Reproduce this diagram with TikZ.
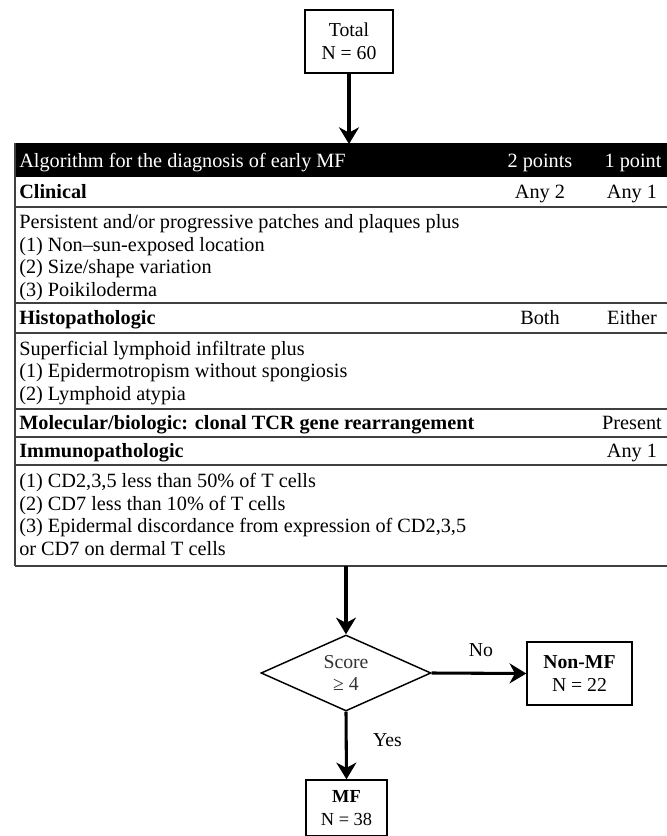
\documentclass[tikz,border=0pt]{standalone}
\usepackage{fontspec}
\setmainfont{Liberation Serif}
\usetikzlibrary{arrows.meta,shapes.geometric}
\begin{document}
\begin{tikzpicture}[x=0.75pt,y=-0.75pt,
  txt/.style={font=\fontsize{15.2pt}{16.9pt}\selectfont, inner sep=0pt, anchor=base west},
  num/.style={font=\fontsize{15.2pt}{16.9pt}\selectfont, inner sep=0pt, anchor=base},
  box/.style={draw, line width=1.1pt, align=center, inner sep=0pt,
              font=\fontsize{14.8pt}{17pt}\selectfont},
  flow/.style={line width=2.3pt, -{Stealth[length=12.5pt,width=15pt,inset=4pt]}},
  rule/.style={line width=1.1pt, draw=black!75},
  lbl/.style={font=\fontsize{14.8pt}{17pt}\selectfont, inner sep=0pt}]
\useasboundingbox (0,0) rectangle (667,836);

% ---- top box
\node[box, minimum width=66pt, minimum height=47.25pt] (total) at (349,41.5) {Total\\N = 60};
\coordinate (tabletop) at (349,144);
\draw[flow] (total.south) -- (tabletop);

% ---- table frame
\fill[black] (15,143) rectangle (667,177);
\foreach \yy in {207,303,333,409,437,465,566}{
  \draw[rule] (15,\yy) -- (667,\yy);
}
\draw[rule] (15,143) -- (15,566);

% header
\node[txt, text=white] (hA) at (19,167.5) {Algorithm for the diagnosis of early MF};
\node[num, text=white] (hB) at (540,167.5) {2 points};
\node[num, text=white] (hC) at (633,167.5) {1 point};

% clinical
\node[txt] (cl) at (19,198.5) {\bfseries Clinical};
\node[num] (clB) at (540,198.5) {Any 2};
\node[num] (clC) at (632,198.5) {Any 1};
\node[txt] (cl1) at (19,228.5) {Persistent and/or progressive patches and plaques plus};
\node[txt] (cl2) at (19,251) {(1) Non–sun-exposed location};
\node[txt] (cl3) at (19,273.5) {(2) Size/shape variation};
\node[txt] (cl4) at (19,296) {(3) Poikiloderma};

% histopathologic
\node[txt] (hi) at (19,324.5) {\bfseries Histopathologic};
\node[num] (hiB) at (540,324.5) {Both};
\node[num] (hiC) at (632,324.5) {Either};
\node[txt] (hi1) at (19,355) {Superficial lymphoid infiltrate plus};
\node[txt] (hi2) at (19,377.5) {(1) Epidermotropism without spongiosis};
\node[txt] (hi3) at (19,400) {(2) Lymphoid atypia};

% molecular
\node[txt] (mo) at (19,429.5) {\bfseries Molecular/biologic: clonal TCR gene rearrangement};
\node[num] (moC) at (632,429.5) {Present};

% immunopathologic
\node[txt] (im) at (19,457.5) {\bfseries Immunopathologic};
\node[num] (imC) at (632,457.5) {Any 1};
\node[txt] (im1) at (19,487.5) {(1) CD2,3,5 less than 50\% of T cells};
\node[txt] (im2) at (19,510) {(2) CD7 less than 10\% of T cells};
\node[txt] (im3) at (19,532.5) {(3) Epidermal discordance from expression of CD2,3,5};
\node[txt] (im4) at (19,555) {or CD7 on dermal T cells};

% ---- decision
\coordinate (tablebottom) at (346,566);
\node[draw, shape=diamond, line width=1.1pt, aspect=2.24, minimum width=127.5pt,
      minimum height=57pt, inner sep=0pt, align=center, text=black!80,
      font=\fontsize{14.8pt}{17pt}\selectfont] (score) at (346,673) {Score\\≥ 4};
\draw[flow] (tablebottom) -- (score.north);

\node[box, minimum width=78.75pt, minimum height=47.25pt] (nonmf) at (579.5,673.5)
  {\bfseries Non-MF\\N = 22};
\node[box, minimum width=60.75pt, minimum height=42pt,
      font=\fontsize{13.8pt}{17pt}\selectfont] (mf) at (346.5,808) {\bfseries MF\\N = 38};

\draw[flow] (score.east) -- node[lbl, above=11pt, pos=0.52] (no) {No} (nonmf.west);
\draw[flow] (score.south) -- node[lbl, right=19pt, pos=0.42] (yes) {Yes} (mf.north);
\end{tikzpicture}
\end{document}
